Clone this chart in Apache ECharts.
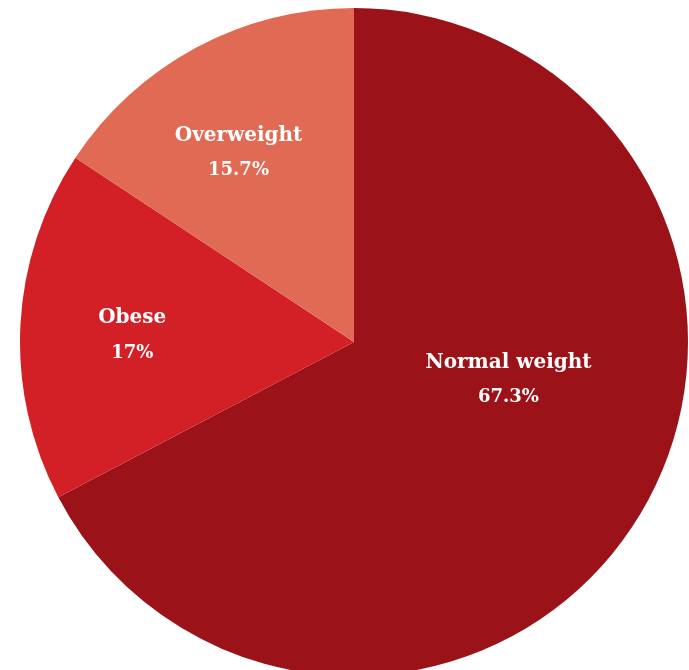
<!DOCTYPE html>
<html>
<head>
<meta charset="utf-8">
<script src="https://cdn.jsdelivr.net/npm/echarts@6/dist/echarts.min.js"></script>
<style>html,body{margin:0;padding:0;background:#fff;}#c{width:689px;height:670px;}</style>
</head>
<body>
<div id="c"></div>
<script>
const categories = ['Normal weight', 'Obese', 'Overweight'];
const values = [67.3, 17, 15.7];
const colors = ['#9B1218', '#D32027', '#E06A53'];
const labelOffsets = [[9, -50], [-52, 2], [-35, -39]];

const chart = echarts.init(document.getElementById('c'), null, {renderer: 'canvas'});
chart.setOption({
  animation: false,
  series: [{
    type: 'pie',
    center: [354, 342],
    radius: [0, 334],
    startAngle: 90,
    clockwise: true,
    avoidLabelOverlap: false,
    itemStyle: {borderWidth: 0},
    label: {
      show: true,
      position: 'inside',
      color: '#fff',
      fontFamily: 'DejaVu Serif',
      fontWeight: 'bold',
      lineHeight: 35,
      formatter: p => '{a|' + p.name + '}\n{b|' + p.value + '%}',
      rich: {
        a: {fontFamily: 'DejaVu Serif', fontWeight: 'bold', fontSize: 20, color: '#fff', lineHeight: 35},
        b: {fontFamily: 'DejaVu Serif', fontWeight: 'bold', fontSize: 18, color: '#fff', lineHeight: 35}
      }
    },
    labelLine: {show: false},
    data: categories.map((n, i) => ({
      name: n, value: values[i],
      itemStyle: {color: colors[i]},
      label: {offset: labelOffsets[i]}
    }))
  }]
});
</script>
</body>
</html>
